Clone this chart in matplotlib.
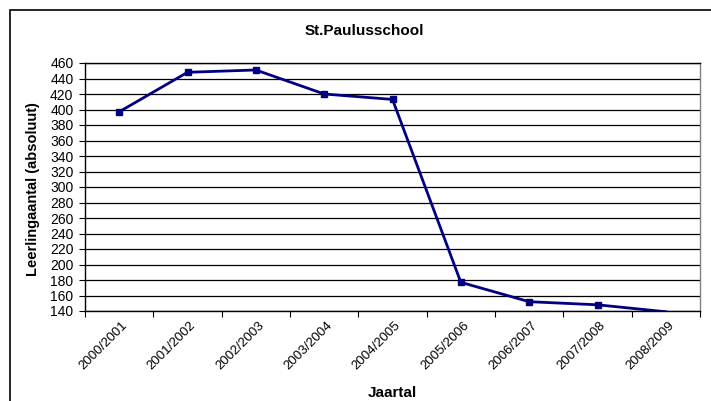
import numpy as np
import matplotlib.pyplot as plt
from matplotlib.patches import Rectangle

plt.rcParams['font.family'] = ['Liberation Sans', 'DejaVu Sans']

# Data
jaren = ['2000/2001', '2001/2002', '2002/2003', '2003/2004', '2004/2005',
         '2005/2006', '2006/2007', '2007/2008', '2008/2009']
leerlingen = [397, 448, 451, 420, 413, 177, 152, 148, 139]
y_ticks = list(range(140, 461, 20))

W, H = 711, 401
fig = plt.figure(figsize=(W / 100, H / 100), dpi=100)

# outer chart frame (clipped at right/bottom like the screenshot)
fig.patches.append(Rectangle((10 / W, -0.05), 1.2, (H - 10) / H + 0.05,
                             transform=fig.transFigure, fill=False,
                             edgecolor='black', linewidth=1.2))

ax = fig.add_axes([85 / W, 1 - 311 / H, (700 - 85) / W, (311 - 63) / H])

x = np.arange(len(jaren))
zichtbaar = [i for i, v in enumerate(leerlingen) if v >= y_ticks[0]]
ax.plot(x, leerlingen, color='#000080', linewidth=2, marker='s',
        markersize=5, markevery=zichtbaar, clip_on=True)

ax.set_xlim(-0.5, len(jaren) - 0.5)
ax.set_ylim(140, 460)
ax.set_yticks(y_ticks)
ax.set_yticklabels([str(v) for v in y_ticks], fontsize=10)
ax.yaxis.grid(True, color='black', linewidth=0.9)
ax.set_axisbelow(True)

# ticks between categories, labels at category centres
ax.set_xticks(np.arange(-0.5, len(jaren), 1))
ax.set_xticklabels([])
ax.tick_params(axis='x', length=4, direction='out', color='black')
ax.tick_params(axis='y', length=4.3, direction='out', color='black', pad=4)
for i, lab in enumerate(jaren):
    ax.annotate(lab, xy=(i, 0), xycoords=('data', 'axes fraction'),
                xytext=(1.5, -6), textcoords='offset points',
                rotation=45, ha='right', va='top', rotation_mode='anchor',
                fontsize=9.5)

for side in ['left', 'bottom']:
    ax.spines[side].set_color('black')
ax.spines['right'].set_color('#808080')
ax.spines['top'].set_color('black')
for s in ax.spines.values():
    s.set_linewidth(1)

fig.text(364 / W, 1 - 31 / H, 'St.Paulusschool', ha='center', va='center',
         fontsize=11, fontweight='bold')
fig.text(392 / W, 1 - 393 / H, 'Jaartal', ha='center', va='center',
         fontsize=11, fontweight='bold')
fig.text(33 / W, 1 - 189 / H, 'Leerlingaantal (absoluut)', ha='center',
         va='center', rotation=90, fontsize=10.5, fontweight='bold')

fig.savefig('out.png', dpi=100)
